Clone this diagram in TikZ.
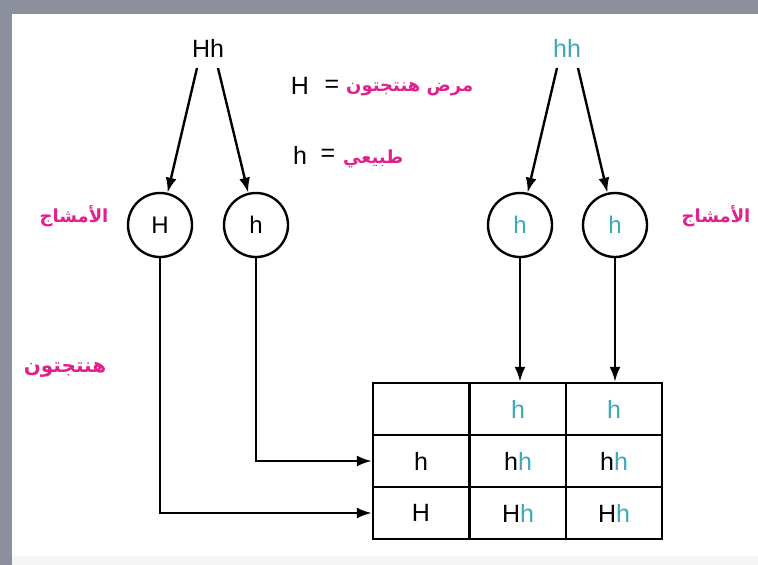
\documentclass[tikz,border=0pt]{standalone}
\usepackage{fontspec}
\setmainfont{Liberation Sans}
\newfontfamily\arabicfont[Script=Arabic]{DejaVu Sans}
\TeXXeTstate=1
\usetikzlibrary{arrows.meta}
\definecolor{magentaT}{HTML}{E0208C}
\definecolor{tealT}{HTML}{3FA9B5}
\definecolor{frameG}{HTML}{8C909C}
\begin{document}
\begin{tikzpicture}[x=1pt,y=-1pt,
  lat/.style={font=\fontsize{25}{29}\selectfont, inner sep=0pt},
  ar/.style={font=\fontsize{18}{22}\selectfont\arabicfont\bfseries, text=magentaT, inner sep=0pt},
  gam/.style={circle, draw, line width=2.4pt, minimum size=64pt, inner sep=0pt, font=\fontsize{24}{28}\selectfont},
  cell/.style={draw, line width=2.4pt, minimum width=96pt, minimum height=52pt, inner sep=0pt, font=\fontsize{25}{29}\selectfont},
  arr/.style={line width=2.4pt, -{Latex[length=15pt,width=11pt]}}]
\fill[white] (0,0) rectangle (758,565);
\fill[black!4] (12,556) rectangle (758,565);
\fill[frameG] (0,0) rectangle (758,14);
\fill[frameG] (0,0) rectangle (12,565);
\useasboundingbox (0,0) rectangle (758,565);
% parents
\node[lat] (Hh) at (208,48) {Hh};
\node[lat, text=tealT] (hh) at (567,48) {hh};
% legend
\node[lat] (lH) at (300,86) {H};
\node[lat] (lHeq) at (332,86) {=};
\node[ar, anchor=west] (lHar) at (346,89) {\beginR مرض هنتجتون\endR};
\node[lat] (lh) at (300,155) {h};
\node[lat] (lheq) at (328,155) {=};
\node[ar, anchor=west] (lhar) at (343,159) {\beginR طبيعي\endR};
% gametes
\node[gam] (cH) at (160,225) {H};
\node[gam] (ch) at (256,225) {h};
\node[gam, text=tealT] (c3) at (520,225) {h};
\node[gam, text=tealT] (c4) at (615,225) {h};
\node[ar] (g1) at (74,216) {\beginR الأمشاج\endR};
\node[ar] (g2) at (716,216) {\beginR الأمشاج\endR};
\node[ar, font=\fontsize{20}{24}\selectfont\arabicfont\bfseries] (hun) at (65,370) {\beginR هنتجتون\endR};
% table
\node[cell] (t11) at (421,409) {};
\node[cell, text=tealT] (t12) at (518,409) {h};
\node[cell, text=tealT] (t13) at (614,409) {h};
\node[cell] (t21) at (421,461) {h};
\node[cell] (t22) at (518,461) {h{\color{tealT}h}};
\node[cell] (t23) at (614,461) {h{\color{tealT}h}};
\node[cell] (t31) at (421,513) {H};
\node[cell] (t32) at (518,513) {H{\color{tealT}h}};
\node[cell] (t33) at (614,513) {H{\color{tealT}h}};
% connectors
\coordinate (a1) at (197,68);
\coordinate (a2) at (218,68);
\coordinate (b1) at (557,68);
\coordinate (b2) at (578,68);
\draw[arr] (a1) -- (cH);
\draw[arr] (a2) -- (ch);
\draw[arr] (b1) -- (c3);
\draw[arr] (b2) -- (c4);
\draw[arr] (c3.south) -- (c3.south |- t12.north);
\draw[arr] (c4.south) -- (c4.south |- t13.north);
\draw[arr] (ch.south) |- (t21.west);
\draw[arr] (cH.south) |- (t31.west);
\end{tikzpicture}
\end{document}
